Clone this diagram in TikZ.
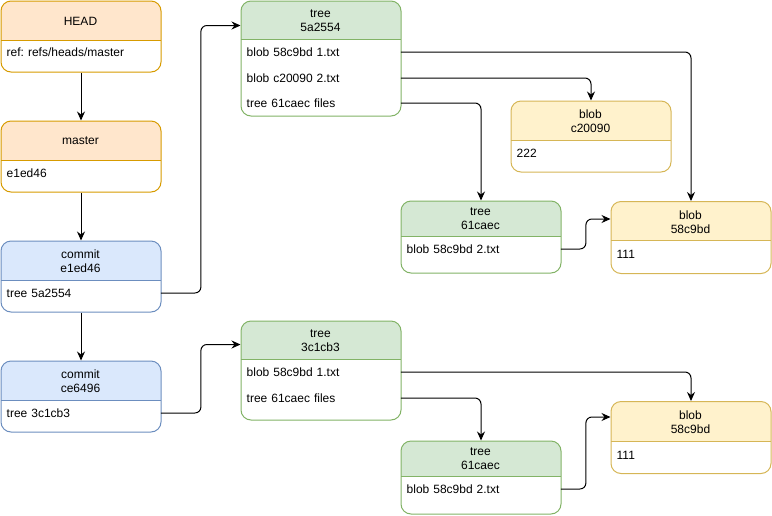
\documentclass[tikz,border=0pt]{standalone}
\usepackage{fontspec}
\setmainfont{Liberation Sans}
\usepackage{tikz}
\usetikzlibrary{arrows.meta}

\definecolor{refFill}{HTML}{FFE6CC}
\definecolor{refLine}{HTML}{D79B00}
\definecolor{comFill}{HTML}{DAE8FC}
\definecolor{comLine}{HTML}{6C8EBF}
\definecolor{treeFill}{HTML}{D5E8D4}
\definecolor{treeLine}{HTML}{82B366}
\definecolor{blobFill}{HTML}{FFF2CC}
\definecolor{blobLine}{HTML}{D6B656}

\tikzset{
    objbox/.style={rounded corners=10pt, fill=white, minimum width=160pt, inner sep=0pt, anchor=north west, line width=1pt},
    objhead/.style n args={3}{path picture={
        \fill[#1, sharp corners] (path picture bounding box.north west) rectangle ([yshift=-#3]path picture bounding box.north east);
        \draw[#2, sharp corners, line width=1pt] ([yshift=-#3]path picture bounding box.north west) -- ([yshift=-#3]path picture bounding box.north east);}},
    refbox/.style={objbox, draw=refLine, objhead={refFill}{refLine}{#1}},
    combox/.style={objbox, draw=comLine, objhead={comFill}{comLine}{#1}},
    treebox/.style={objbox, draw=treeLine, objhead={treeFill}{treeLine}{#1}},
    blobbox/.style={objbox, draw=blobLine, objhead={blobFill}{blobLine}{#1}},
    objtitle/.style={align=center, inner sep=0pt, font=\fontsize{12}{14}\selectfont},
    objrow/.style={anchor=west, minimum width=160pt, text width=148pt, inner xsep=6pt, inner ysep=0pt, align=left, font=\fontsize{12}{14}\selectfont\frenchspacing},
    conn/.style={-{Stealth[length=9pt, width=8pt, inset=3pt]}, line width=1pt, rounded corners=6pt},
}

\begin{document}
\begin{tikzpicture}[x=1pt, y=-1pt]
    \useasboundingbox (0,0) rectangle (772,515);

    % refs and commits
    \node[refbox=39pt, minimum height=71pt] (head) at (0.5,0.5) {};
    \node[objtitle] (head-t) at (80.5,21) {HEAD};
    \node[objrow] (head-r1) at (0.5,52) {ref: refs/heads/master};

    \node[refbox=39pt, minimum height=71pt] (master) at (0.5,120.5) {};
    \node[objtitle] (master-t) at (80.5,141) {master};
    \node[objrow] (master-r1) at (0.5,173) {e1ed46};

    \node[combox=39pt, minimum height=71pt] (c1) at (0.5,240.5) {};
    \node[objtitle] (c1-t) at (80.5,261) {commit\\e1ed46};
    \node[objrow] (c1-r1) at (0.5,293) {tree 5a2554};

    \node[combox=39pt, minimum height=71pt] (c2) at (0.5,360.5) {};
    \node[objtitle] (c2-t) at (80.5,381) {commit\\ce6496};
    \node[objrow] (c2-r1) at (0.5,413) {tree 3c1cb3};

    % first tree
    \node[treebox=38pt, minimum height=115pt] (t1) at (240.5,0.5) {};
    \node[objtitle] (t1-t) at (320.5,21) {tree\\5a2554};
    \node[objrow] (t1-r1) at (240.5,52) {blob 58c9bd 1.txt};
    \node[objrow] (t1-r2) at (240.5,78) {blob c20090 2.txt};
    \node[objrow] (t1-r3) at (240.5,103) {tree 61caec files};

    \node[blobbox=39pt, minimum height=71pt] (bc) at (510.5,100.5) {};
    \node[objtitle] (bc-t) at (590.5,121) {blob\\c20090};
    \node[objrow] (bc-r1) at (510.5,153) {222};

    \node[treebox=35pt, minimum height=72pt] (s1) at (400.5,200.5) {};
    \node[objtitle] (s1-t) at (480.5,219) {tree\\61caec};
    \node[objrow] (s1-r1) at (400.5,249) {blob 58c9bd 2.txt};

    \node[blobbox=39pt, minimum height=72pt] (b1) at (610.5,201) {};
    \node[objtitle] (b1-t) at (690.5,222) {blob\\58c9bd};
    \node[objrow] (b1-r1) at (610.5,254) {111};

    % second tree
    \node[treebox=38pt, minimum height=99pt] (t2) at (240.5,320.5) {};
    \node[objtitle] (t2-t) at (320.5,341) {tree\\3c1cb3};
    \node[objrow] (t2-r1) at (240.5,372) {blob 58c9bd 1.txt};
    \node[objrow] (t2-r2) at (240.5,398) {tree 61caec files};

    \node[treebox=35pt, minimum height=73pt] (s2) at (400.5,440.5) {};
    \node[objtitle] (s2-t) at (480.5,459) {tree\\61caec};
    \node[objrow] (s2-r1) at (400.5,489) {blob 58c9bd 2.txt};

    \node[blobbox=40pt, minimum height=72pt] (b2) at (610.5,401) {};
    \node[objtitle] (b2-t) at (690.5,422) {blob\\58c9bd};
    \node[objrow] (b2-r1) at (610.5,455) {111};

    % connectors
    \draw[conn] (head) -- (master);
    \draw[conn] (master) -- (c1);
    \draw[conn] (c1) -- (c2);
    \draw[conn] (c1-r1.east) -- ++(40,0) |- ([yshift=-25pt]t1.north west);
    \draw[conn] (c2-r1.east) -- ++(40,0) |- ([yshift=-24pt]t2.north west);
    \draw[conn] (t1-r1.east) -| (b1.north);
    \draw[conn] (t1-r2.east) -| (bc.north);
    \draw[conn] (t1-r3.east) -| (s1.north);
    \draw[conn] (s1-r1.east) -- ++(25,0) |- ([yshift=-18pt]b1.north west);
    \draw[conn] (t2-r1.east) -| (b2.north);
    \draw[conn] (t2-r2.east) -| (s2.north);
    \draw[conn] (s2-r1.east) -- ++(25,0) |- ([yshift=-16pt]b2.north west);
\end{tikzpicture}
\end{document}
